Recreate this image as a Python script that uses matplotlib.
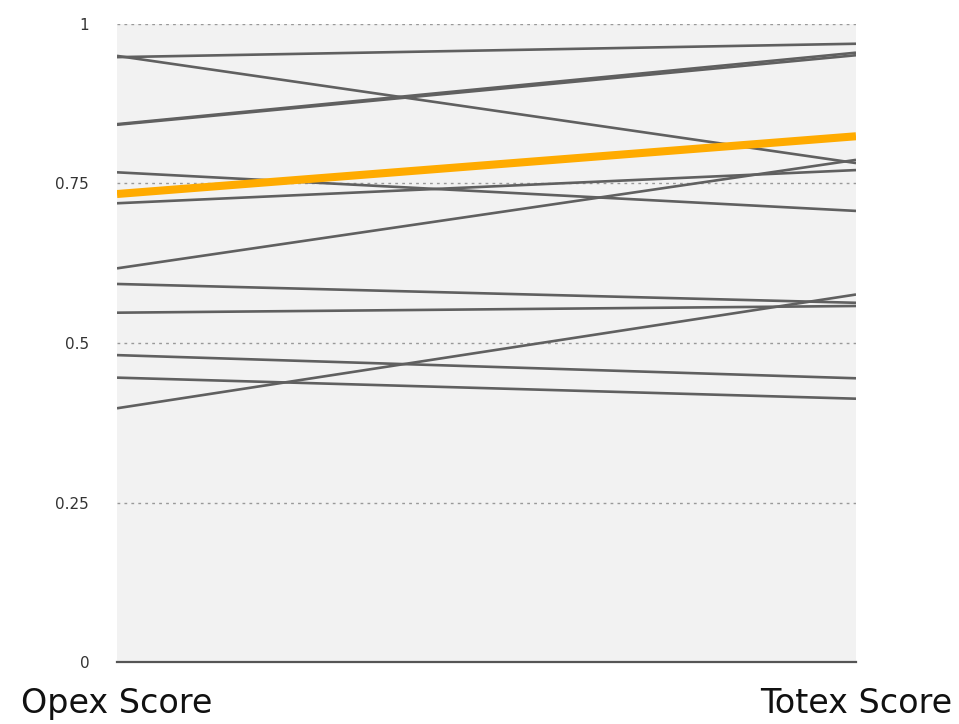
import matplotlib.pyplot as plt
import numpy as np

plt.rcParams['font.family'] = ['DejaVu Sans']

# scores per company: opex (left) -> totex (right)
opex = [0.948, 0.950, 0.843, 0.842, 0.7675, 0.719, 0.617, 0.5925, 0.5475, 0.481, 0.4457, 0.3977]
totex = [0.969, 0.782, 0.955, 0.951, 0.707, 0.771, 0.787, 0.563, 0.558, 0.4447, 0.4127, 0.576]
# highlighted company
hl_opex = 0.7335
hl_totex = 0.824

x_labels = ['Opex Score', 'Totex Score']
y_ticks = [0, 0.25, 0.5, 0.75, 1]
y_ticklabels = ['0', '0.25', '0.5', '0.75', '1']

fig = plt.figure(figsize=(9.59, 7.24), dpi=100)
ax = fig.add_axes([0.122, 0.0856, 0.7706, 0.8813])
ax.set_facecolor('#f2f2f2')

for a, b in zip(opex, totex):
    ax.plot([0, 1], [a, b], color='#606060', lw=1.9, solid_capstyle='butt')
ax.plot([0, 1], [hl_opex, hl_totex], color='#ffab00', lw=5.8, solid_capstyle='butt', zorder=3)

ax.set_xlim(0, 1)
ax.set_ylim(0, 1)
ax.set_yticks(y_ticks)
ax.set_yticklabels(y_ticklabels, fontsize=11, color='#333333')
ax.tick_params(axis='y', length=0, pad=20)
ax.set_xticks([0, 1])
ax.set_xticklabels(x_labels, fontsize=24, color='#111111')
ax.tick_params(axis='x', length=0, pad=18)

for y in y_ticks[1:]:
    ax.axhline(y, color='#999999', lw=1, ls=(0, (2, 3)), zorder=1)

for s in ['top', 'right', 'left']:
    ax.spines[s].set_visible(False)
ax.spines['bottom'].set_color('#555555')
ax.spines['bottom'].set_linewidth(1.6)

fig.savefig('out.png', dpi=100)
